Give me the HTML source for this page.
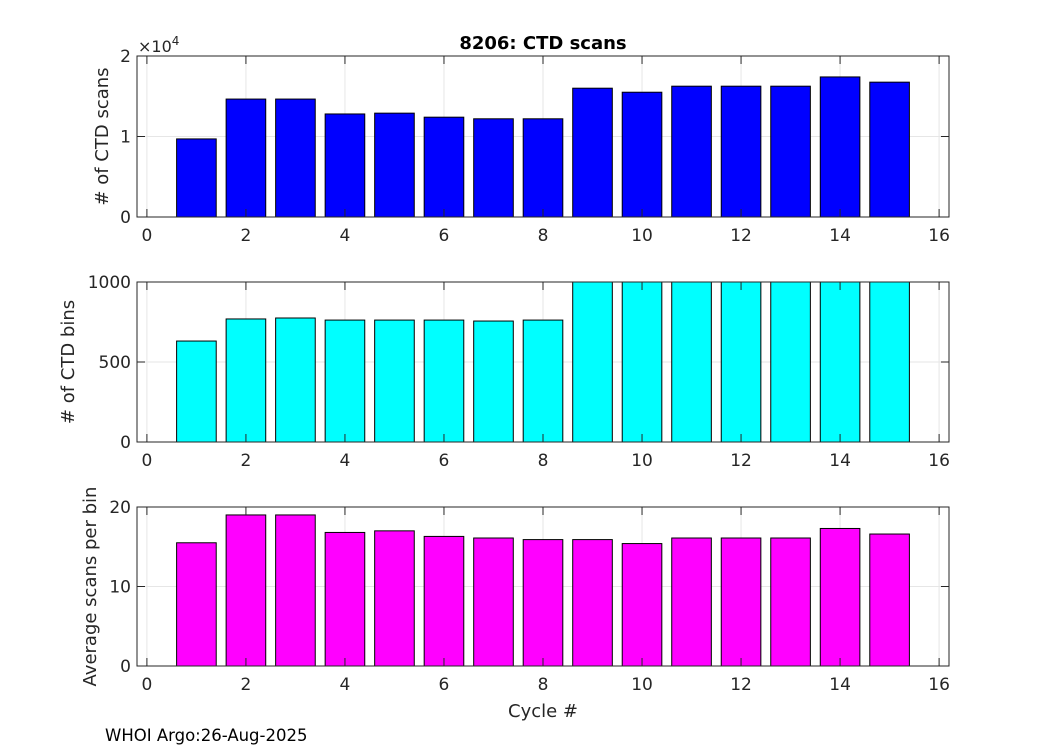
<!DOCTYPE html>
<html><head><meta charset="utf-8"><style>
body{margin:0;background:#fff;font-family:"Liberation Sans","DejaVu Sans",sans-serif;}
svg text{font-family:"DejaVu Sans","Liberation Sans",sans-serif;fill:#262626;}
</style></head><body>
<svg id="c" width="1050" height="750" xmlns="http://www.w3.org/2000/svg">
<rect width="1050" height="750" fill="#fff"/>
</svg>
<script>
const cycles=[1,2,3,4,5,6,7,8,9,10,11,12,13,14,15];
const scans=[9700,14650,14650,12800,12900,12400,12200,12200,16000,15500,16250,16250,16250,17400,16750];
const bins=[631,769,775,762,762,762,756,762,1000,1000,1000,1000,1000,1000,1000];
const avg=[15.5,19.0,19.0,16.8,17.0,16.3,16.1,15.9,15.9,15.4,16.1,16.1,16.1,17.3,16.6];
const xTicks=[0,2,4,6,8,10,12,14,16];
const ns="http://www.w3.org/2000/svg";
const svg=document.getElementById('c');
function mk(t,a,p){const e=document.createElementNS(ns,t);for(const k in a)e.setAttribute(k,a[k]);(p||svg).appendChild(e);return e;}
const X0=137,X1=949,xmin=-0.2,xmax=16.2;
const xs=v=>X0+(v-xmin)/(xmax-xmin)*(X1-X0);
const panels=[
 {name:'scans',top:56,bot:217,ymax:20000,vals:scans,color:'#0000ff',ticks:[0,10000,20000],tl:['0','1','2'],label:'# of CTD scans'},
 {name:'bins',top:282,bot:442,ymax:1000,vals:bins,color:'#00ffff',ticks:[0,500,1000],tl:['0','500','1000'],label:'# of CTD bins'},
 {name:'avg',top:507,bot:666,ymax:20,vals:avg,color:'#ff00ff',ticks:[0,10,20],tl:['0','10','20'],label:'Average scans per bin'}
];
panels.forEach(p=>{
 const g=mk('g',{});
 
 
 const ys=v=>p.bot-v/p.ymax*(p.bot-p.top);
 xTicks.forEach(t=>{mk('line',{x1:xs(t),x2:xs(t),y1:p.top,y2:p.bot,stroke:'#e6e6e6','stroke-width':1},g);});
 p.ticks.forEach(t=>{mk('line',{x1:X0,x2:X1,y1:ys(t),y2:ys(t),stroke:'#e6e6e6','stroke-width':1},g);});
 cycles.forEach((c,i)=>{
  const v=Math.min(p.vals[i],p.ymax);
  const r=mk('rect',{x:xs(c-0.4),y:ys(v),width:xs(c+0.4)-xs(c-0.4),height:ys(0)-ys(v),fill:p.color,stroke:'#000','stroke-width':1},g);
  
  
 });
 mk('rect',{x:X0,y:p.top,width:X1-X0,height:p.bot-p.top,fill:'none',stroke:'#262626','stroke-width':1},g);
 xTicks.forEach(t=>{
  mk('line',{x1:xs(t),x2:xs(t),y1:p.bot,y2:p.bot-8,stroke:'#262626'},g);
  mk('line',{x1:xs(t),x2:xs(t),y1:p.top,y2:p.top+8,stroke:'#262626'},g);
  const tx=mk('text',{x:xs(t),y:p.bot+24,'text-anchor':'middle','font-size':17},g);tx.textContent=t;
 });
 p.ticks.forEach((t,i)=>{
  mk('line',{x1:X0,x2:X0+8,y1:ys(t),y2:ys(t),stroke:'#262626'},g);
  mk('line',{x1:X1,x2:X1-8,y1:ys(t),y2:ys(t),stroke:'#262626'},g);
  const tx=mk('text',{x:X0-6,y:ys(t)+6,'text-anchor':'end','font-size':17},g);tx.textContent=p.tl[i];
 });
 const cy=(p.top+p.bot)/2;
 const yl=mk('text',{x:0,y:0,transform:`translate(${p.name==='avg'?96:p.name==='bins'?74:108},${cy}) rotate(-90)`,'text-anchor':'middle','font-size':18},g);
 yl.textContent=p.label;
 
 
});
const t=mk('text',{x:543,y:49,'text-anchor':'middle','font-size':18,'font-weight':'bold',style:'fill:#000'});t.textContent='8206: CTD scans';

const e=mk('text',{x:138,y:52,'font-size':16});e.innerHTML='×10<tspan dy="-7" font-size="12">4</tspan>';

const xl=mk('text',{x:543,y:717,'text-anchor':'middle','font-size':18});xl.textContent='Cycle #';

const f=mk('text',{x:105,y:741,'font-size':16.5,style:'fill:#000'});f.textContent='WHOI Argo:26-Aug-2025';

</script>
</body></html>
